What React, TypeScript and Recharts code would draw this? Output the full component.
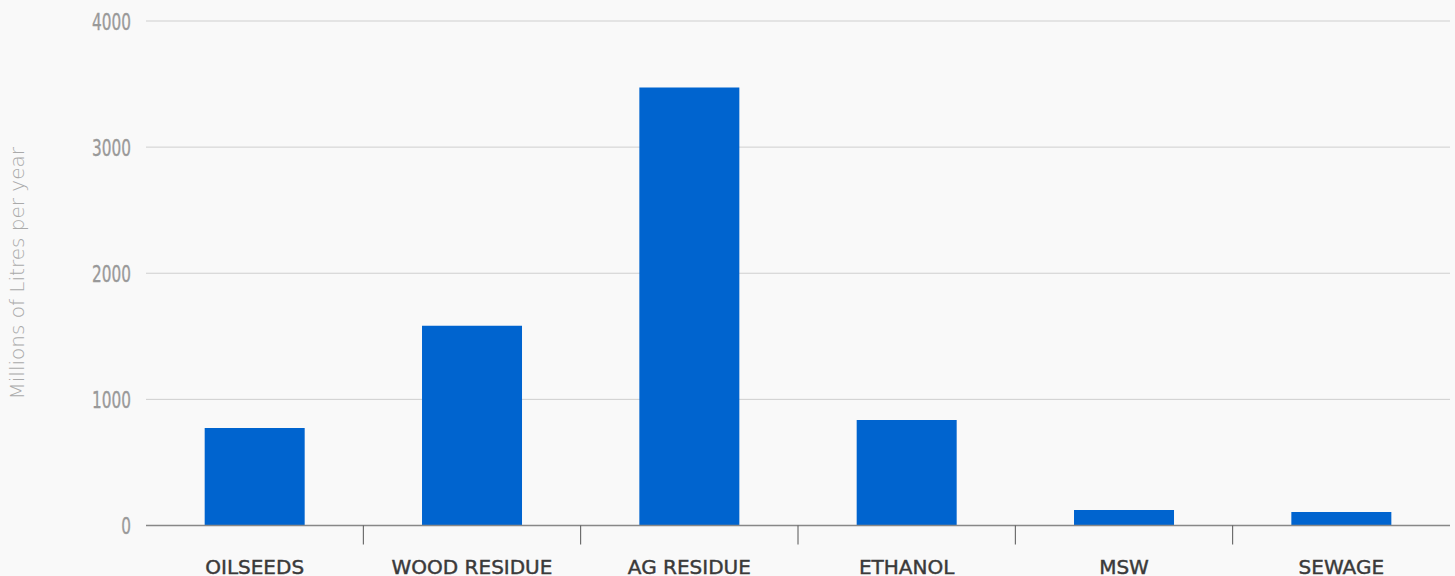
import React from "react";
import { BarChart, Bar, XAxis, YAxis, CartesianGrid } from "recharts";

const categories = ["OILSEEDS", "WOOD RESIDUE", "AG RESIDUE", "ETHANOL", "MSW", "SEWAGE"];
const volumes = [774, 1583, 3472, 837, 123, 107];
const yTicks = [0, 1000, 2000, 3000, 4000];

const data = categories.map((c, i) => ({ name: c, value: volumes[i] }));

const XTick = (props: any) => {
  const { x, y, payload, index } = props;
  const half = payload && payload.offset ? payload.offset : 1304 / categories.length / 2;
  return (
    <g>
      {index > 0 && (
        <line x1={x - half} x2={x - half} y1={y - 8} y2={y + 11} stroke="#555" strokeWidth={1} />
      )}
      <text
        x={x}
        y={y + 40}
        textAnchor="middle"
        fill="#3a3a3a"
        stroke="#3a3a3a"
        strokeWidth={0.45}
        fontFamily="'DejaVu Sans', sans-serif"
        fontSize={20}
      >
        {payload.value}
      </text>
    </g>
  );
};

const YTick = (props: any) => {
  const { x, y, payload } = props;
  return (
    <g transform={`translate(${x + 1},${y}) scale(0.74,1)`}>
      <text
        x={0}
        y={0}
        dy={8.5}
        textAnchor="end"
        fill="#999"
        stroke="#999"
        strokeWidth={0.35}
        fontFamily="'DejaVu Sans Condensed', 'DejaVu Sans', sans-serif"
        fontSize={23}
      >
        {payload.value}
      </text>
    </g>
  );
};

export default function App() {
  return (
    <div style={{ position: "absolute", left: 0, top: 0, width: 1455, height: 576, background: "#f9f9f9" }}>
      <BarChart
        width={1455}
        height={576}
        data={data}
        margin={{ top: 21, right: 5, bottom: 0, left: 0 }}
        barCategoryGap="27%"
      >
        <CartesianGrid vertical={false} stroke="#cfcfcf" />
        <XAxis
          dataKey="name"
          axisLine={{ stroke: "#888", strokeWidth: 1.5 }}
          tickLine={false}
          height={50.5}
          interval={0}
          tick={<XTick />}
        />
        <YAxis
          width={146}
          domain={[0, 4000]}
          ticks={yTicks}
          axisLine={false}
          tickLine={false}
          tickMargin={10}
          tick={<YTick />}
          label={{
            value: "Millions of Litres per year",
            angle: -90,
            position: "insideLeft",
            dx: 12,
            style: { textAnchor: "middle", fill: "#aaa", fontSize: 20, fontFamily: "'DejaVu Sans', sans-serif", fontWeight: 200 },
          }}
        />
        <Bar dataKey="value" fill="#0064cf" isAnimationActive={false} />
      </BarChart>
    </div>
  );
}
